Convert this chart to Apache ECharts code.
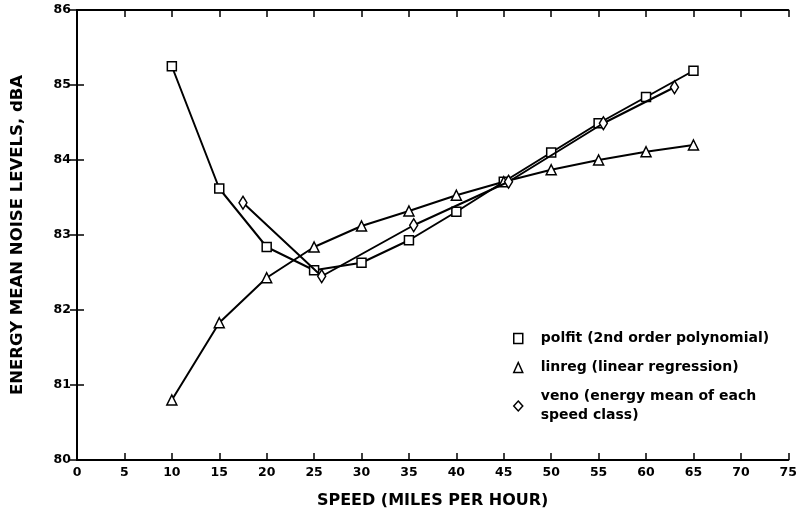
<!DOCTYPE html>
<html>
<head>
<meta charset="utf-8">
<script src="https://cdn.jsdelivr.net/npm/echarts@6/dist/echarts.min.js"></script>
<style>
  html, body { margin: 0; padding: 0; background: #fff; }
  #chart { width: 800px; height: 516px; }
</style>
</head>
<body>
<div id="chart"></div>
<script>
// Speed classes (mph) for the fitted curves
const fitSpeeds = [10, 15, 20, 25, 30, 35, 40, 45, 50, 55, 60, 65];
// polfit: 2nd order polynomial fit (dBA)
const polfitLevels = [85.25, 83.62, 82.84, 82.53, 82.63, 82.93, 83.31, 83.71, 84.10, 84.49, 84.84, 85.19];
// linreg: linear regression (dBA)
const linregLevels = [80.80, 81.83, 82.43, 82.84, 83.12, 83.32, 83.53, 83.71, 83.87, 84.00, 84.11, 84.20];
// veno: energy mean of each speed class, at the class mean speed
const venoSpeeds = [17.5, 25.8, 35.5, 45.5, 55.5, 63];
const venoLevels = [83.43, 82.45, 83.13, 83.71, 84.49, 84.97];

const xTicks = [0, 75, 5];   // min, max, step
const yTicks = [80, 86, 1];

const seriesNames = [
  'polfit (2nd order polynomial)',
  'linreg (linear regression)',
  'veno (energy mean of each\nspeed class)'
];

const font = '"DejaVu Sans", Verdana, sans-serif';
const ink = '#000';

function pairs(xs, ys) { return xs.map((x, i) => [x, ys[i]]); }

const axisLine = { show: true, lineStyle: { color: ink, width: 2 } };
const axisTickIn = { show: true, inside: true, length: 7, lineStyle: { color: ink, width: 1.5 } };
const tickLabel = { color: ink, fontFamily: font, fontWeight: 'bold', fontSize: 12.5 };

const markerStyle = { color: '#fff', borderColor: ink, borderWidth: 1.5 };

const chart = echarts.init(document.getElementById('chart'), null, { renderer: 'canvas' });
chart.setOption({
  animation: false,
  backgroundColor: '#fff',
  grid: { left: 77, right: 7, top: 10, bottom: 56, containLabel: false },
  xAxis: [
    {
      type: 'value', min: xTicks[0], max: xTicks[1], interval: xTicks[2],
      position: 'bottom',
      name: 'SPEED (MILES PER HOUR)', nameLocation: 'middle', nameGap: 33,
      nameTextStyle: { color: ink, fontFamily: font, fontSize: 16, fontWeight: 'bold' },
      axisLine, axisTick: axisTickIn, splitLine: { show: false },
      axisLabel: Object.assign({ margin: 6 }, tickLabel)
    },
    {
      type: 'value', min: xTicks[0], max: xTicks[1], interval: xTicks[2],
      position: 'top', axisLine, axisTick: axisTickIn,
      axisLabel: { show: false }, splitLine: { show: false }
    }
  ],
  yAxis: [
    {
      type: 'value', min: yTicks[0], max: yTicks[1], interval: yTicks[2],
      position: 'left',
      name: 'ENERGY MEAN NOISE LEVELS, dBA', nameLocation: 'middle', nameGap: 51,
      nameTextStyle: { color: ink, fontFamily: font, fontSize: 16.5, fontWeight: 'bold' },
      axisLine, axisTick: axisTickIn, splitLine: { show: false },
      axisLabel: Object.assign({ margin: 6 }, tickLabel)
    },
    {
      type: 'value', min: yTicks[0], max: yTicks[1], interval: yTicks[2],
      position: 'right', axisLine, axisTick: axisTickIn,
      axisLabel: { show: false }, splitLine: { show: false }
    }
  ],
  legend: {
    orient: 'vertical',
    left: 508, top: 324,
    itemWidth: 9, itemHeight: 10, itemGap: 10,
    data: [
      { name: seriesNames[0], icon: 'rect', itemStyle: Object.assign({}, markerStyle) },
      { name: seriesNames[1], icon: 'triangle', itemStyle: Object.assign({}, markerStyle) },
      { name: seriesNames[2], icon: 'diamond', itemStyle: Object.assign({}, markerStyle) }
    ],
    textStyle: { color: ink, fontFamily: font, fontSize: 14, fontWeight: 'bold', lineHeight: 19, padding: [0, 0, 0, 13] },
    selectedMode: false
  },
  series: [
    {
      name: seriesNames[0], type: 'line', data: pairs(fitSpeeds, polfitLevels),
      symbol: 'rect', symbolSize: 9, showAllSymbol: true,
      lineStyle: { color: ink, width: 2 }, itemStyle: markerStyle, z: 3
    },
    {
      name: seriesNames[1], type: 'line', data: pairs(fitSpeeds, linregLevels),
      symbol: 'triangle', symbolSize: 10, showAllSymbol: true,
      lineStyle: { color: ink, width: 2 }, itemStyle: markerStyle, z: 3
    },
    {
      name: seriesNames[2], type: 'line', data: pairs(venoSpeeds, venoLevels),
      symbol: 'diamond', symbolSize: [8, 13], showAllSymbol: true,
      lineStyle: { color: ink, width: 2 }, itemStyle: markerStyle, z: 4
    }
  ]
});
</script>
</body>
</html>
